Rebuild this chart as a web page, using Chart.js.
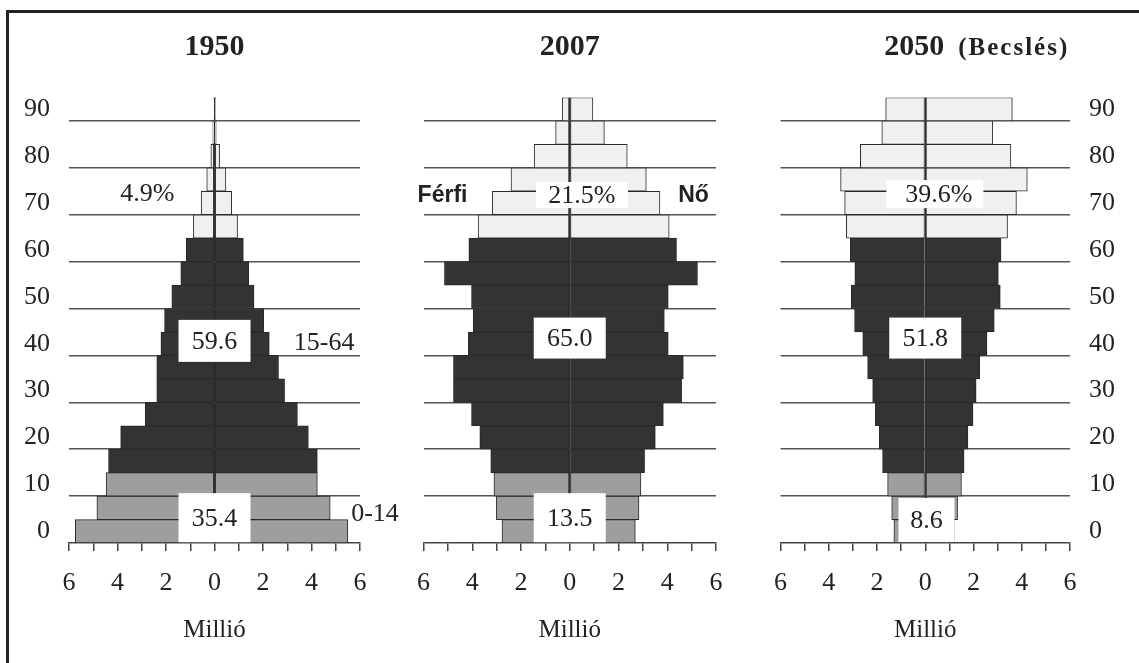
<!DOCTYPE html>
<html>
<head>
<meta charset="utf-8">
<script src="https://cdn.jsdelivr.net/npm/chart.js@4.4.0/dist/chart.umd.min.js"></script>
<style>
  html, body { margin: 0; padding: 0; background: #fff; overflow: hidden; }
  #wrap { position: relative; width: 1139px; height: 663px; overflow: hidden; }
  #frame { position: absolute; left: 6px; top: 10px; width: 1400px; height: 800px;
           border: 3px solid #222; box-sizing: border-box; }
  canvas { position: absolute; top: 0; }
</style>
</head>
<body>
<div id="wrap">
  <div id="frame"></div>
  <canvas id="c1950" width="410" height="663" style="left:0px"></canvas>
  <canvas id="c2007" width="340" height="663" style="left:400px"></canvas>
  <canvas id="c2050" width="382" height="663" style="left:757px"></canvas>
</div>
<script>
// age groups, bottom to top (0-4 ... 90+)
const AGES = ['0', '5', '10', '15', '20', '25', '30', '35', '40', '45',
              '50', '55', '60', '65', '70', '75', '80', '85', '90'];

// millions
const male1950   = [5.74, 4.85, 4.47, 4.37, 3.87, 2.86, 2.38, 2.38, 2.21, 2.06, 1.76, 1.39, 1.17, 0.87, 0.55, 0.32, 0.15, 0.07, 0.03];
const female1950 = [5.50, 4.77, 4.24, 4.24, 3.87, 3.42, 2.89, 2.64, 2.26, 2.03, 1.63, 1.41, 1.19, 0.95, 0.71, 0.47, 0.21, 0.07, 0.03];

const male2007   = [2.78, 3.01, 3.11, 3.24, 3.69, 4.03, 4.77, 4.77, 4.16, 3.96, 4.03, 5.14, 4.14, 3.76, 3.18, 2.41, 1.46, 0.58, 0.31];
const female2007 = [2.69, 2.84, 2.92, 3.07, 3.51, 3.84, 4.59, 4.66, 4.04, 3.88, 4.04, 5.24, 4.38, 4.08, 3.70, 3.14, 2.36, 1.42, 0.95];

const male2050   = [1.30, 1.39, 1.56, 1.77, 1.91, 2.07, 2.18, 2.39, 2.59, 2.93, 3.07, 2.92, 3.11, 3.27, 3.34, 3.51, 2.69, 1.80, 1.64];
const female2050 = [1.20, 1.34, 1.50, 1.61, 1.77, 1.98, 2.11, 2.26, 2.56, 2.86, 3.11, 3.03, 3.14, 3.41, 3.78, 4.23, 3.55, 2.80, 3.61];

const X_TICKS = [-6, -4, -2, 0, 2, 4, 6];

const SERIF = '"Liberation Serif", "Times New Roman", serif';
const SANS = '"Liberation Sans", Arial, sans-serif';
const INK = '#222';

// 0-14 gray, 15-64 dark, 65+ light
const groupColors = AGES.map((a, i) => i < 3 ? '#9e9e9e' : (i < 13 ? '#333333' : '#f0f0f0'));

// titles and the small labels on top of the pyramids
const pyramidText = {
    id: 'pyramidText',
    afterDraw(chart) {
        const o = chart.options.plugins.pyramidText;
        const { ctx, chartArea, scales: { x, y } } = chart;
        const agePx = age => y.getPixelForValue(age / 5 - 0.5);
        ctx.save();
        ctx.fillStyle = INK;

        // title
        const cx = (chartArea.left + chartArea.right) / 2;
        ctx.textBaseline = 'alphabetic';
        ctx.font = 'bold 30px ' + SERIF;
        if (o.sub) {
            const w1 = ctx.measureText(o.title).width;
            const left = cx - 11 - w1 / 2;
            ctx.textAlign = 'left';
            ctx.fillText(o.title, left, 55);
            ctx.font = 'bold 25px ' + SERIF;
            ctx.letterSpacing = '2px';
            ctx.fillText(o.sub, left + w1 + 14, 55);
            ctx.letterSpacing = '0px';
        } else {
            ctx.textAlign = 'center';
            ctx.fillText(o.title, cx, 55);
        }

        ctx.textBaseline = 'middle';
        o.notes.forEach(n => {
            const px = x.getPixelForValue(n.x);
            const py = agePx(n.age);
            if (n.box) {
                ctx.fillStyle = '#fff';
                ctx.fillRect(px - n.box[0] / 2, py - n.box[1] / 2, n.box[0], n.box[1]);
                ctx.fillStyle = INK;
            }
            ctx.font = n.bold ? 'bold 23px ' + SANS : '26px ' + SERIF;
            ctx.textAlign = 'center';
            ctx.fillText(n.text, n.tx !== undefined ? x.getPixelForValue(n.tx) : px, py + 1);
        });
        ctx.restore();
    }
};

function makePyramid(id, male, female, side, yWidth, padding, texts) {
    const barStyle = {
        grouped: false,
        barPercentage: 1,
        categoryPercentage: 1,
        backgroundColor: groupColors,
        borderColor: '#2a2a2a',
        borderWidth: 1,
        borderSkipped: false
    };
    return new Chart(document.getElementById(id), {
        type: 'bar',
        data: {
            labels: AGES,
            datasets: [
                Object.assign({ label: 'Férfi', data: male.map(v => -v) }, barStyle),
                Object.assign({ label: 'Nő', data: female }, barStyle)
            ]
        },
        options: {
            indexAxis: 'y',
            responsive: false,
            animation: false,
            layout: { padding: padding },
            plugins: {
                legend: { display: false },
                tooltip: { enabled: false },
                pyramidText: texts
            },
            scales: {
                x: {
                    type: 'linear',
                    min: -6,
                    max: 6,
                    z: 1,
                    afterFit: s => { s.height = 120; },
                    afterBuildTicks: s => {
                        s.ticks = [];
                        for (let v = -6; v <= 6; v++) s.ticks.push({ value: v });
                    },
                    ticks: {
                        autoSkip: false,
                        maxRotation: 0,
                        padding: 17,
                        color: INK,
                        font: { family: SERIF, size: 26 },
                        callback: v => X_TICKS.includes(v) ? String(Math.abs(v)) : ''
                    },
                    grid: {
                        color: c => (c.tick && c.tick.value === 0) ? '#333' : 'rgba(0,0,0,0)',
                        lineWidth: 1.5,
                        tickColor: '#444',
                        tickLength: 8,
                        tickWidth: 1.5
                    },
                    border: { display: true, color: '#444', width: 1.5 },
                    title: {
                        display: true,
                        text: 'Millió',
                        color: INK,
                        font: { family: SERIF, size: 25 },
                        padding: { top: 0, bottom: 18 }
                    }
                },
                y: {
                    type: 'category',
                    reverse: true,
                    position: side === 'none' ? 'left' : side,
                    offset: true,
                    afterFit: s => { s.width = yWidth; },
                    ticks: {
                        display: side !== 'none',
                        autoSkip: false,
                        padding: 19,
                        color: INK,
                        font: { family: SERIF, size: 26 },
                        callback: (v, i) => i % 2 === 0 ? AGES[i] : ''
                    },
                    grid: {
                        offset: true,
                        drawTicks: false,
                        lineWidth: 1.5,
                        color: c => (c.index > 0 && c.index < 19 && c.index % 2 === 0) ? '#555' : 'rgba(0,0,0,0)'
                    },
                    border: { display: false }
                }
            }
        },
        plugins: [pyramidText]
    });
}

makePyramid('c1950', male1950, female1950, 'left', 69,
    { top: 97.5, right: 50, left: 0, bottom: 0 },
    {
        title: '1950',
        notes: [
            { text: '4.9%', x: -2.77, age: 74.7 },
            { text: '59.6', x: 0, age: 43.1, box: [72, 42] },
            { text: '15-64', x: 4.52, age: 42.9 },
            { text: '35.4', x: 0, age: 5.4, box: [72, 49] },
            { text: '0-14', x: 6.62, age: 6.4 }
        ]
    });

makePyramid('c2007', male2007, female2007, 'none', 20,
    { top: 97.5, right: 24, left: 0, bottom: 0 },
    {
        title: '2007',
        notes: [
            { text: 'Férfi', x: -5.22, age: 74.2, bold: true },
            { text: '21.5%', x: 0.5, age: 74.2, box: [92, 26] },
            { text: 'Nő', x: 5.08, age: 74.2, bold: true },
            { text: '65.0', x: 0, age: 43.7, box: [72, 41] },
            { text: '13.5', x: 0, age: 5.4, box: [72, 49] }
        ]
    });

makePyramid('c2050', male2050, female2050, 'right', 69,
    { top: 97.5, right: 0, left: 20, bottom: 0 },
    {
        title: '2050',
        sub: '(Becslés)',
        notes: [
            { text: '39.6%', x: 0.4, tx: 0.56, age: 74.4, box: [97, 28] },
            { text: '51.8', x: 0, age: 43.7, box: [72, 41] },
            { text: '8.6', x: 0.05, age: 4.9, box: [56, 44] }
        ]
    });
</script>
</body>
</html>
